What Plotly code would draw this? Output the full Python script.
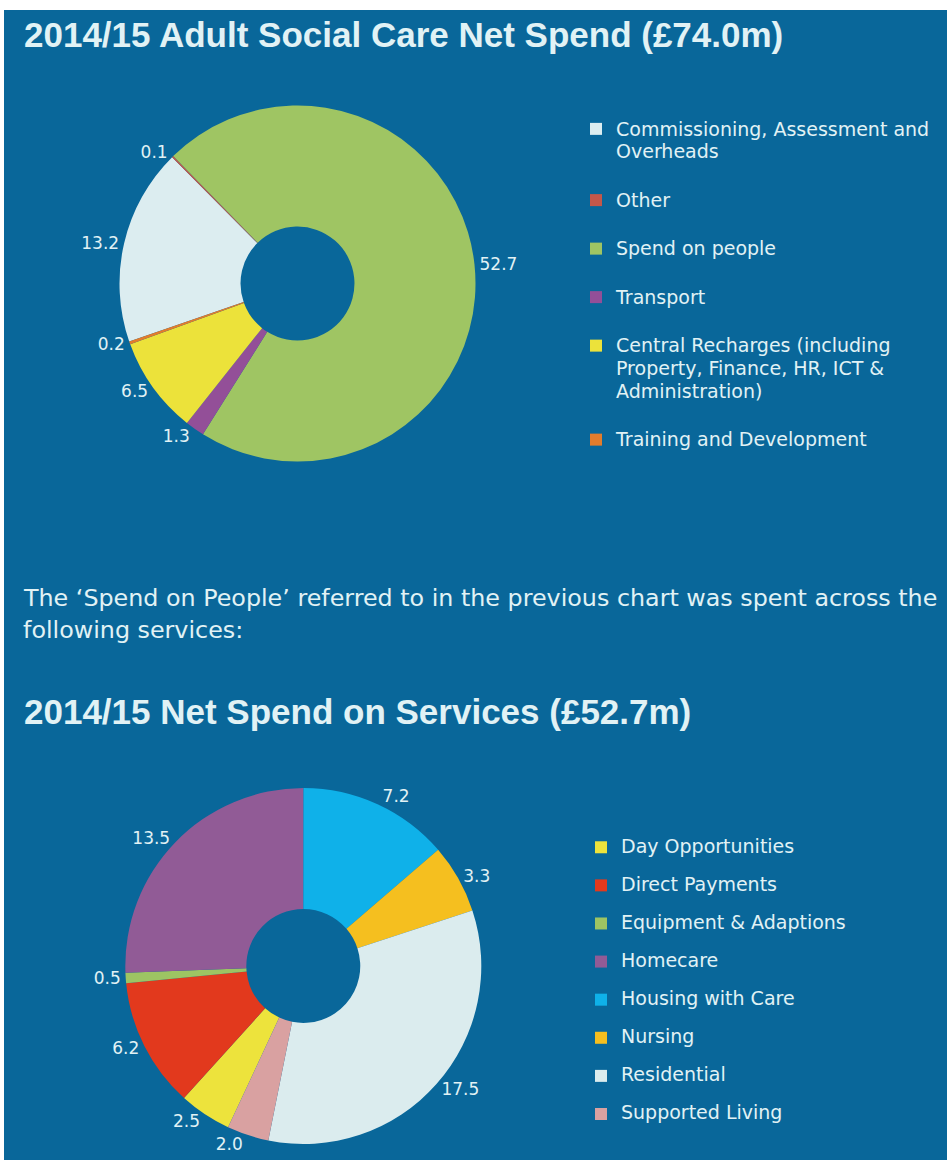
import plotly.graph_objects as go

# ---------------- data ----------------
asc_categories = [
    "Commissioning, Assessment and<br>Overheads",
    "Other",
    "Spend on people",
    "Transport",
    "Central Recharges (including<br>Property, Finance, HR, ICT &<br>Administration)",
    "Training and Development",
]
asc_values = [13.2, 0.1, 52.7, 1.3, 6.5, 0.2]
asc_colors = ["#dcedf0", "#c4574a", "#9fc563", "#934f98", "#ece23a", "#e27c2c"]

svc_categories = [
    "Day Opportunities",
    "Direct Payments",
    "Equipment & Adaptions",
    "Homecare",
    "Housing with Care",
    "Nursing",
    "Residential",
    "Supported Living",
]
svc_values = [2.5, 6.2, 0.5, 13.5, 7.2, 3.3, 17.5, 2.0]
svc_colors = ["#ede33c", "#e2391d", "#9dc463", "#915b96", "#0fb1e9", "#f5bf1f", "#dbecee", "#d9a1a1"]

title1 = "2014/15 Adult Social Care Net Spend (£74.0m)"
para_lines = ["The ‘Spend on People’ referred to in the previous chart was spent across the",
              "following services:"]
title2 = "2014/15 Net Spend on Services (£52.7m)"

# ---------------- style ----------------
BG = "#09679a"
TXT = "#e1f2f5"
FONT = "DejaVu Sans, Liberation Sans, Arial, sans-serif"
TFONT = "Liberation Sans, Arial, sans-serif"
W, H = 947, 1160
ML, MT = 4, 10
PW, PH = W - ML, H - MT


def px(x):
    return (x - ML) / PW


def py(y):
    return 1 - (y - MT) / PH


# legend labels: add a blank line for spacing
leg1_labels = ["<span style='font-size:19px'>" + c + "</span><br> " for c in asc_categories]
leg2_labels = ["<span style='font-size:19px'>" + c + "</span><br> " for c in svc_categories]

fig = go.Figure()

fig.add_trace(go.Pie(
    labels=leg1_labels, values=asc_values, sort=False, direction="clockwise",
    rotation=-109, hole=0.32,
    marker=dict(colors=asc_colors, line=dict(width=0)),
    textposition="outside", texttemplate="%{value:.1f}",
    outsidetextfont=dict(color=TXT, size=17, family=FONT),
    domain=dict(x=[px(119.5), px(475.5)], y=[py(461.5), py(105.5)]),
    legend="legend", hoverinfo="label+value",
))

fig.add_trace(go.Pie(
    labels=leg2_labels, values=svc_values, sort=False, direction="clockwise",
    rotation=-155, hole=0.32,
    marker=dict(colors=svc_colors, line=dict(width=0)),
    textposition="outside", texttemplate="%{value:.1f}",
    outsidetextfont=dict(color=TXT, size=17, family=FONT),
    domain=dict(x=[px(125.3), px(481.3)], y=[py(1144), py(788)]),
    legend="legend2", hoverinfo="label+value",
))

annotations = [
    dict(text="<b>" + title1 + "</b>", x=px(22), y=py(35), xref="paper", yref="paper",
         xanchor="left", yanchor="middle", showarrow=False,
         font=dict(size=35, color=TXT, family=TFONT)),
    dict(text=para_lines[0], x=px(21), y=py(598), xref="paper", yref="paper",
         xanchor="left", yanchor="middle", showarrow=False,
         font=dict(size=23.8, color=TXT, family=FONT)),
    dict(text=para_lines[1], x=px(21), y=py(630), xref="paper", yref="paper",
         xanchor="left", yanchor="middle", showarrow=False,
         font=dict(size=23.8, color=TXT, family=FONT)),
    dict(text="<b>" + title2 + "</b>", x=px(22), y=py(711), xref="paper", yref="paper",
         xanchor="left", yanchor="middle", showarrow=False,
         font=dict(size=35, color=TXT, family=TFONT)),
]

fig.update_layout(
    width=W, height=H,
    margin=dict(l=ML, r=0, t=MT, b=0),
    paper_bgcolor="white",
    plot_bgcolor=BG,
    shapes=[dict(type="rect", xref="paper", yref="paper", x0=0, x1=1, y0=0, y1=1,
                 fillcolor=BG, line=dict(width=0), layer="below")],
    annotations=annotations,
    legend=dict(x=px(576), y=py(111), xanchor="left", yanchor="top",
                font=dict(size=17.5, color=TXT, family=FONT), valign="top",
                bgcolor="rgba(0,0,0,0)"),
    legend2=dict(x=px(581), y=py(832), xanchor="left", yanchor="top",
                 font=dict(size=13.5, color=TXT, family=FONT), valign="top",
                 bgcolor="rgba(0,0,0,0)"),
    showlegend=True,
)

fig.write_html("out.html", config={"displayModeBar": False},
               post_script="document.body.style.margin='0';document.body.style.overflow='hidden';")
